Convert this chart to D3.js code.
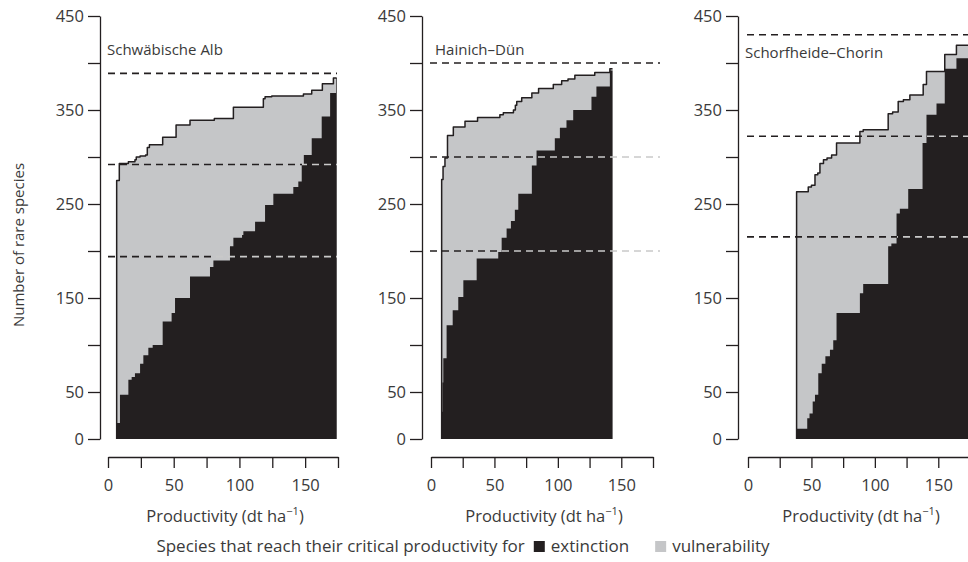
<!DOCTYPE html>
<html><head><meta charset="utf-8">
<script src="https://cdn.jsdelivr.net/npm/d3@7"></script>
<style>body{margin:0;background:#fff}text{font-family:"Open Sans","Noto Sans",sans-serif;fill:#3a3a3a}</style>
</head><body><svg id="c" width="968" height="562"></svg>
<script>
// ---------- data ----------
const panelNames = ["Schwäbische Alb", "Hainich–Dün", "Schorfheide–Chorin"];
const yTicks = [0, 50, 100, 150, 200, 250, 300, 350, 400, 450];
const yTickLabels = ["0", "50", "", "150", "", "250", "", "350", "", "450"];
const xTicks = [0, 25, 50, 75, 100, 125, 150, 175];
const xTickLabels = ["0", "", "50", "", "100", "", "150", ""];
const yTitle = "Number of rare species";
const xTitle = "Productivity (dt ha";
const legendLead = "Species that reach their critical productivity for";
const legendItems = ["extinction", "vulnerability"];

// cumulative species reaching critical productivity (vulnerability = total outline), step curves [productivity, species]
const saTotal = [[6.6,275],[8.6,293],[15.5,295],[20.5,297],[21.5,300],[24.4,301],[28.6,302],[29.9,310],[31.5,313],[41.6,321],[51.8,334],[62.4,339],[80.9,341],[95.4,353],[118.2,362],[119.5,364],[124.6,365],[148.7,367],[155,371],[163.1,378],[171.5,384],[174,384]];
const saExtinction = [[6.6,17],[9.1,47],[15.5,63],[18,66],[20.5,70],[24.4,80],[26.9,89],[30.7,97],[34,100],[41.6,125],[48.4,134],[51,150],[62.4,173],[77.6,183],[80.2,190],[92.8,205],[95.4,214],[102,217],[103,221],[111.9,231],[119.5,249],[125.8,261],[141,268],[144.8,274],[147.4,292],[149,302],[155,320],[162.6,343],[169,368],[173.5,384],[174,384]];
const hdTotal = [[8.4,276],[9.5,290],[11,299],[13,323],[17.6,332],[26.8,338],[36.7,342],[54.3,345],[57,347],[65,350],[66.5,355],[67.6,359],[71.5,363],[79.5,368],[84.8,373],[96.4,377],[103,381],[108,383],[113.4,387],[129.1,390],[141,394],[143.1,394]];
const hdExtinction = [[8.4,29],[9,60],[9.7,86],[12.3,121],[17.1,137],[21.5,151],[25.5,169],[36,192],[53,199],[55.7,214],[59.6,224],[63,232],[66.1,244],[68.8,261],[79.5,291],[83.2,307],[97.6,320],[101.6,331],[106.8,339],[112.1,350],[126.5,364],[130.4,375],[141,392],[143.1,394]];
const scTotal = [[38.3,263],[47.5,268],[50,270],[52.8,281],[55,283],[56.7,293],[59.5,297],[62.3,299],[65.9,302],[69.8,315],[88.2,327],[90.8,329],[110.5,346],[114,348],[118.4,359],[122.5,361],[127.6,366],[138.1,377],[140.7,391],[155.1,409],[164.3,419],[178,419]];
const scExtinction = [[38.3,11],[46.7,22],[48.5,27],[51,40],[52.8,47],[55.4,70],[58.1,80],[61,88],[64.6,95],[67.2,105],[69.8,134],[88.2,155],[90.8,165],[110.5,205],[113,208],[117.1,240],[119.7,245],[126.3,266],[137.6,315],[140.7,345],[148.6,357],[155.1,394],[164.3,405],[178,405]];
// horizontal reference levels (dashed)
const saLevels = [389, 292, 194];
const hdLevels = [400, 300, 200];
const scLevels = [430, 322, 215];

const totals = [saTotal, hdTotal, scTotal];
const extinctions = [saExtinction, hdExtinction, scExtinction];
const levels = [saLevels, hdLevels, scLevels];

// ---------- layout ----------
const layout = [
  {axisX: 100, xr: [108, 338], dash: [108, 337], title: [107, 55]},
  {axisX: 422, xr: [431, 653], dash: [430, 660], title: [435, 55]},
  {axisX: 738, xr: [748, 970], dash: [747, 975], title: [745, 58]}
];
const BLACK = "#231f20", GRAY = "#c5c6c8", DASHGRAY = "#c9c9c9";
const FS = "16.5px";
const svg = d3.select("#c");
const defs = svg.append("defs");
const y = d3.scaleLinear().domain([0, 450]).range([439, 16]);

layout.forEach((L, i) => {
  const x = d3.scaleLinear().domain([0, 175]).range(L.xr);
  const g = svg.append("g");
  const area = d3.area().x(d => x(d[0])).y0(y(0)).y1(d => y(d[1])).curve(d3.curveStepAfter);
  g.append("path").datum(totals[i]).attr("d", area).attr("fill", GRAY);
  g.append("path").datum(extinctions[i]).attr("d", area).attr("fill", BLACK);
  const line = d3.line().x(d => x(d[0])).y(d => y(d[1])).curve(d3.curveStepAfter);
  const outline = [[totals[i][0][0], 0]].concat(totals[i]);
  g.append("path").datum(outline).attr("d", line).attr("fill", "none")
    .attr("stroke", BLACK).attr("stroke-width", 1.5).attr("stroke-linejoin", "round");

  // dashed levels: black until extinction curve reaches the level, light grey after
  levels[i].forEach((lv, j) => {
    const hit = extinctions[i].find(d => d[1] >= lv - 4);
    const xc = hit ? x(hit[0]) : L.dash[1] + 10;
    const f = Math.max(0, Math.min(1, (xc - L.dash[0]) / (L.dash[1] - L.dash[0])));
    const id = `gr${i}_${j}`;
    const gr = defs.append("linearGradient").attr("id", id).attr("gradientUnits", "userSpaceOnUse")
      .attr("x1", L.dash[0]).attr("x2", L.dash[1]).attr("y1", 0).attr("y2", 0);
    gr.append("stop").attr("offset", f).attr("stop-color", BLACK);
    gr.append("stop").attr("offset", f).attr("stop-color", DASHGRAY);
    g.append("line").attr("x1", L.dash[0]).attr("x2", L.dash[1]).attr("y1", y(lv)).attr("y2", y(lv))
      .attr("stroke", `url(#${id})`).attr("stroke-width", 1.6).attr("stroke-dasharray", "7,5");
  });

  // y axis
  const ya = d3.axisLeft(y).tickValues(yTicks).tickSize(12).tickSizeOuter(0).tickPadding(4)
    .tickFormat((d, k) => yTickLabels[k]);
  const yg = svg.append("g").attr("transform", `translate(${L.axisX},0)`).call(ya);
  // x axis
  const xa = d3.axisBottom(x).tickValues(xTicks).tickSize(11).tickSizeOuter(0).tickPadding(8)
    .tickFormat((d, k) => xTickLabels[k]);
  const xg = svg.append("g").attr("transform", `translate(0,457)`).call(xa);
  [yg, xg].forEach(a => {
    a.selectAll("path,line").attr("stroke", BLACK).attr("stroke-width", 1.3);
    a.selectAll("text").style("font-size", FS).attr("fill", "#3a3a3a");
  });
  xg.selectAll("text").attr("dy", "0.9em");

  // panel title
  svg.append("text").attr("x", L.title[0]).attr("y", L.title[1]).style("font-size", "15px").text(panelNames[i]);
  // x title
  const xt = svg.append("text").attr("x", (L.xr[0] + L.xr[1]) / 2 + 2).attr("y", 522)
    .attr("text-anchor", "middle").style("font-size", FS);
  xt.append("tspan").text(xTitle);
  xt.append("tspan").attr("dy", -7).style("font-size", "11px").text("−1");
  xt.append("tspan").attr("dy", 7).text(")");
});

// y title
svg.append("text").attr("transform", "translate(24,245) rotate(-90)").attr("text-anchor", "middle")
  .style("font-size", "15px").text(yTitle);

// legend
const LFS = "17px";
const lg = svg.append("g");
const t0 = lg.append("text").attr("x", 0).attr("y", 552).style("font-size", LFS).text(legendLead);
let cx = t0.node().getComputedTextLength() + 9;
[BLACK, GRAY].forEach((c, k) => {
  lg.append("rect").attr("x", cx).attr("y", 541).attr("width", 11).attr("height", 11).attr("fill", c);
  cx += 17;
  const t = lg.append("text").attr("x", cx).attr("y", 552).style("font-size", LFS).text(legendItems[k]);
  cx += t.node().getComputedTextLength() + (k === 0 ? 26 : 0);
});
lg.attr("transform", `translate(${463 - cx / 2},0)`);
</script></body></html>
